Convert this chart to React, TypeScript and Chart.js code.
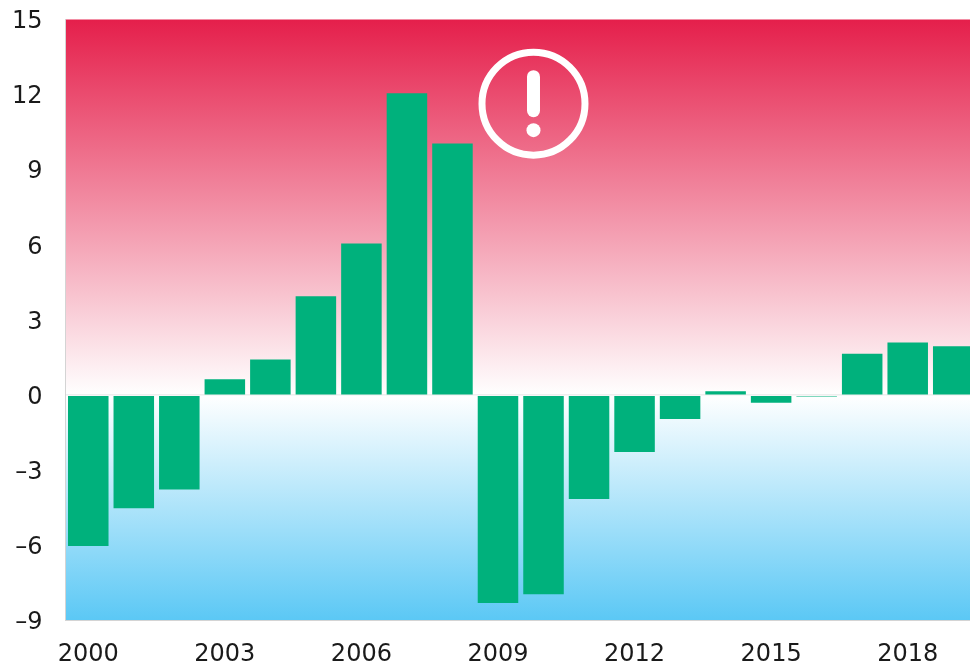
import React, { useEffect, useRef } from "react";
import { Chart, registerables } from "chart.js";

Chart.register(...registerables);

const years = ["2000","2001","2002","2003","2004","2005","2006","2007","2008","2009","2010","2011","2012","2013","2014","2015","2016","2017","2018","2019"];
const values = [-6.02,-4.52,-3.77,0.63,1.42,3.95,6.05,12.05,10.05,-8.3,-7.95,-4.15,-2.27,-0.95,0.15,-0.3,-0.05,1.65,2.1,1.95];
const labelledYears = ["2000","2003","2006","2009","2012","2015","2018"];
const FONT = "'DejaVu Sans', sans-serif";

const backgroundPlugin = {
  id: "bandBackground",
  beforeDraw(chart: any) {
    const { ctx, chartArea: a, scales } = chart;
    const zero = scales.y.getPixelForValue(0);
    const up = ctx.createLinearGradient(0, a.top, 0, zero);
    up.addColorStop(0, "#e51f4b");
    up.addColorStop(1, "#ffffff");
    ctx.fillStyle = up;
    ctx.fillRect(a.left, a.top, a.width, zero - a.top);
    const down = ctx.createLinearGradient(0, zero, 0, a.bottom);
    down.addColorStop(0, "#ffffff");
    down.addColorStop(1, "#5bc8f5");
    ctx.fillStyle = down;
    ctx.fillRect(a.left, zero, a.width, a.bottom - zero);
    // nudge the y tick labels down to sit where the reference has them
    const items = scales.y.getLabelItems();
    if (!(items as any).nudged) {
      items.forEach((i: any) => { i.textOffset += 2.5; });
      (items as any).nudged = true;
    }
  },
};

const alertIconPlugin = {
  id: "alertIcon",
  afterDraw(chart: any) {
    const { ctx, scales } = chart;
    const cx = scales.x.getPixelForValue(9.78);
    const cy = scales.y.getPixelForValue(11.64);
    ctx.save();
    ctx.strokeStyle = "#ffffff";
    ctx.fillStyle = "#ffffff";
    ctx.lineWidth = 7;
    ctx.beginPath();
    ctx.arc(cx, cy, 51.5, 0, Math.PI * 2);
    ctx.stroke();
    ctx.lineCap = "round";
    ctx.lineWidth = 13;
    ctx.beginPath();
    ctx.moveTo(cx, cy - 27);
    ctx.lineTo(cx, cy + 7);
    ctx.stroke();
    ctx.beginPath();
    ctx.arc(cx, cy + 26.5, 7, 0, Math.PI * 2);
    ctx.fill();
    ctx.restore();
  },
};

export default function App() {
  const ref = useRef<HTMLCanvasElement>(null);
  useEffect(() => {
    document.body.style.margin = "0";
    const chart = new Chart(ref.current!, {
      type: "bar",
      data: {
        labels: years,
        datasets: [{
          data: values,
          backgroundColor: "#00b17c",
          borderWidth: 0,
          categoryPercentage: 1,
          barPercentage: 0.89,
        }],
      },
      options: {
        responsive: false,
        animation: false,
        layout: { padding: { top: 19.5, left: 0, right: 0, bottom: 0 } },
        plugins: { legend: { display: false }, tooltip: { enabled: false } },
        scales: {
          x: {
            afterFit(s: any) { s.height = 42.5; },
            border: { color: "#d4d4d4", width: 1 },
            grid: { display: false },
            ticks: {
              autoSkip: false,
              maxRotation: 0,
              padding: 12,
              color: "#1a1a1a",
              font: { family: FONT, size: 24 },
              callback(this: any, v: any) {
                const l = this.getLabelForValue(v);
                return labelledYears.includes(l) ? l : "";
              },
            },
          },
          y: {
            min: -9,
            max: 15,
            afterFit(s: any) { s.width = 65.5; s.paddingTop = 0; s.paddingBottom = 0; },
            border: { color: "#d4d4d4", width: 1 },
            grid: {
              drawTicks: false,
              lineWidth: (c: any) => (c.tick && c.tick.value === 0 ? 1.5 : 0),
              color: "#eeeeee",
            },
            ticks: {
              stepSize: 3,
              padding: 23,
              color: "#1a1a1a",
              font: { family: FONT, size: 24 },
              callback: (v: any) => (Number(v) < 0 ? "\u2013" + Math.abs(Number(v)) : String(v)),
            },
          },
        },
      },
      plugins: [backgroundPlugin, alertIconPlugin],
    } as any);
    return () => chart.destroy();
  }, []);
  return (
    <div style={{ position: "fixed", left: 0, top: 0, width: 970, height: 663, overflow: "hidden", background: "#fff" }}>
      <canvas ref={ref} width={976} height={663} style={{ display: "block" }} />
    </div>
  );
}
